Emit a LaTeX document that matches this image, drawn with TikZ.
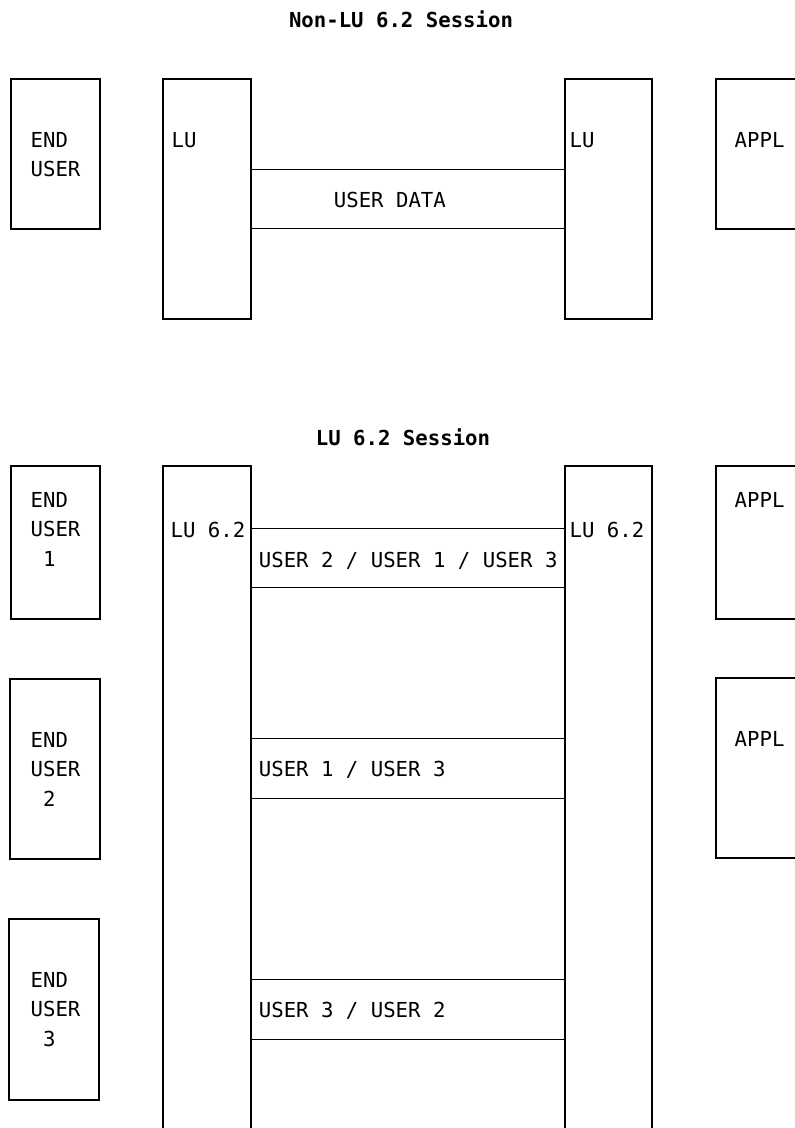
\documentclass[tikz,border=0pt]{standalone}
\usepackage{fontspec}
\usepackage{tikz}
\usetikzlibrary{positioning, calc, fit}
\newfontfamily\lufont{DejaVu Sans Mono}
\newcommand{\lusize}{\fontsize{15.5pt}{22.1pt}\selectfont}

\begin{document}
\begin{tikzpicture}[
  x=0.75pt, y=-0.75pt,
  unitbox/.style={draw, line width=0.9pt, inner sep=0pt},
  boxlbl/.style={font=\lufont\lusize, inner sep=0pt, anchor=base west, align=left},
  sesstitle/.style={font=\lufont\lusize\bfseries, inner sep=0pt, anchor=base},
  band/.style={line width=0.9pt},
]
\useasboundingbox (0,0) rectangle (795,1128);
\clip (0,0) rectangle (795,1128);

% Non-LU 6.2 session
\node[sesstitle] (titleA) at (401,27) {Non-LU 6.2 Session};
\node[unitbox, fit={(11,79) (100,229)}] (euTop) {};
\node[unitbox, fit={(163,79) (251,319)}] (luA) {};
\node[unitbox, fit={(565,79) (652,319)}] (luB) {};
\node[unitbox, fit={(716,79) (830,229)}] (applTop) {};

% (base of a multi-line label = its last line)
\node[boxlbl] (euTopTxt) at ($(euTop.north west)+(20,98.5)$) {END\\USER};
\node[boxlbl] (luATxt) at ($(luA.north west)+(9,69)$) {LU};
\node[boxlbl] (luBTxt) at ($(luB.north west)+(5,69)$) {LU};
\node[boxlbl] (applTopTxt) at ($(applTop.north west)+(19,69)$) {APPL};

\draw[band] ($(luA.north east)+(0,91)$) -- ($(luB.north west)+(0,91)$);
\draw[band] ($(luA.north east)+(0,150)$) -- ($(luB.north west)+(0,150)$);
\node[boxlbl] (userdata) at ($(luA.north east)+(82,129)$) {USER DATA};

% LU 6.2 session
\node[sesstitle] (titleB) at (403,445) {LU 6.2 Session};
\node[unitbox, fit={(11,466) (100,619)}] (euOne) {};
\node[unitbox, fit={(10,679) (100,859)}] (euTwo) {};
\node[unitbox, fit={(9,919) (99,1100)}] (euThree) {};
\node[unitbox, fit={(163,466) (251,1150)}] (lu62A) {};
\node[unitbox, fit={(565,466) (652,1150)}] (lu62B) {};
\node[unitbox, fit={(716,466) (830,619)}] (applOne) {};
\node[unitbox, fit={(716,678) (830,858)}] (applTwo) {};

\node[boxlbl] (euOneTxt) at ($(euOne.north west)+(20,101)$) {END\\USER\\\phantom{0}1};
\node[boxlbl] (euTwoTxt) at ($(euTwo.north west)+(21,128)$) {END\\USER\\\phantom{0}2};
\node[boxlbl] (euThreeTxt) at ($(euThree.north west)+(22,128)$) {END\\USER\\\phantom{0}3};
\node[boxlbl] (lu62ATxt) at ($(lu62A.north west)+(8,72)$) {LU 6.2};
\node[boxlbl] (lu62BTxt) at ($(lu62B.north west)+(5,72)$) {LU 6.2};
\node[boxlbl] (applOneTxt) at ($(applOne.north west)+(19,42)$) {APPL};
\node[boxlbl] (applTwoTxt) at ($(applTwo.north west)+(19,69)$) {APPL};

\foreach \yy in {63,122,273,333,514,574}
  \draw[band] ($(lu62A.north east)+(0,\yy)$) -- ($(lu62B.north west)+(0,\yy)$);

\node[boxlbl] (bandOne) at ($(lu62A.north east)+(7,102)$) {USER 2 / USER 1 / USER 3};
\node[boxlbl] (bandTwo) at ($(lu62A.north east)+(7,311)$) {USER 1 / USER 3};
\node[boxlbl] (bandThree) at ($(lu62A.north east)+(7,552)$) {USER 3 / USER 2};

\end{tikzpicture}
\end{document}
